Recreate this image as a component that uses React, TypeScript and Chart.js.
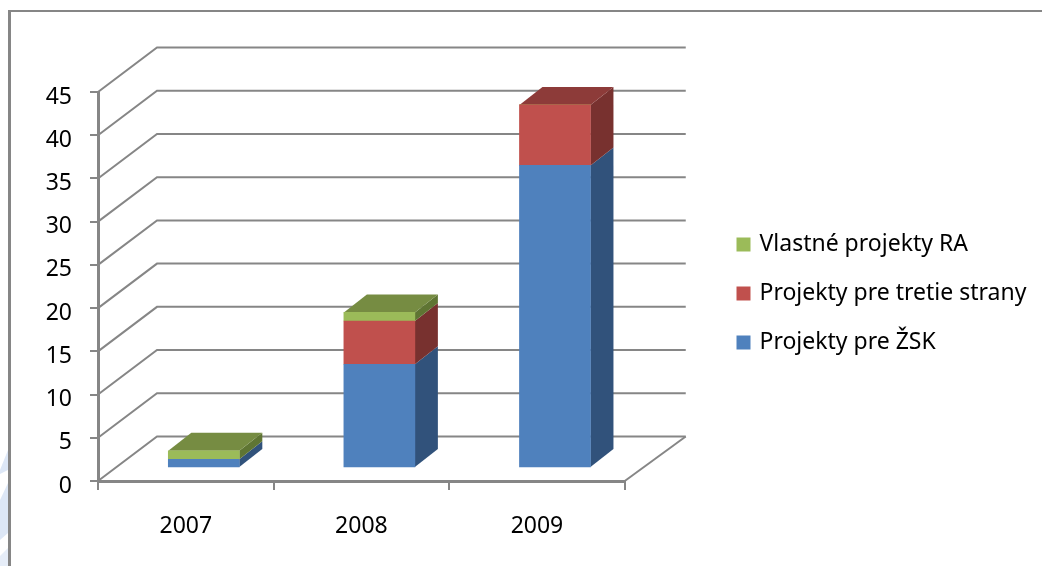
import React, { useEffect, useRef } from "react";
import { Chart, registerables } from "chart.js";

Chart.register(...registerables);

const categories = ["2007", "2008", "2009"];
const zskProjects = [1, 12, 35];
const thirdParty = [0, 5, 7];
const ownProjects = [1, 1, 0];

const FRONT = { blue: "#4F81BD", red: "#C0504D", green: "#9BBB59" };
const SIDE: Record<string, string> = { "#4F81BD": "#31527B", "#C0504D": "#78312F", "#9BBB59": "#5F7533" };
const TOP: Record<string, string> = { "#4F81BD": "#3A6090", "#C0504D": "#8D3B39", "#9BBB59": "#768C42" };
const GRID = "#868686";
const WALL = { dx: 59, dy: -44.5 };
const BAR_SHIFT = { dx: 18, dy: -13 };
const BAR_DEPTH = { dx: 23, dy: -18 };
const LEGEND_BOX_LEFT = 737;
const LEGEND_BOX_TOP = 237;

const poly = (ctx: CanvasRenderingContext2D, pts: number[][], fill: string) => {
  ctx.beginPath();
  pts.forEach(([x, y], i) => (i ? ctx.lineTo(x, y) : ctx.moveTo(x, y)));
  ctx.closePath();
  ctx.fillStyle = fill;
  ctx.fill();
};

const scene3d = {
  id: "scene3d",
  afterLayout(chart: any) {
    const lg = chart.legend;
    const pad = lg.options.labels.padding;
    lg.left = LEGEND_BOX_LEFT - pad + 2;
    lg.right = 1042;
    lg.width = lg.right - lg.left;
    lg.top = LEGEND_BOX_TOP - pad - 4;
    lg.bottom = lg.top + lg.height;
    lg.options.align = "start";
  },
  beforeDatasetsDraw(chart: any) {
    const { ctx, chartArea, scales } = chart;
    const { left, right, bottom } = chartArea;
    ctx.save();
    // faint page watermark left of the frame
    poly(ctx, [[0, 470], [8, 450], [8, 470], [0, 474]], "#DDE7F6");
    poly(ctx, [[0, 500], [8, 483], [8, 533], [0, 540]], "#DDE7F6");
    poly(ctx, [[0, 556], [8, 548], [8, 566], [0, 566]], "#E6EDF8");
    // outer frame, cut by the page at right and bottom
    ctx.strokeStyle = GRID;
    ctx.lineWidth = 3;
    ctx.beginPath();
    ctx.moveTo(9.5, 566);
    ctx.lineTo(9.5, 10);
    ctx.stroke();
    ctx.lineWidth = 2;
    ctx.beginPath();
    ctx.moveTo(8, 11);
    ctx.lineTo(1042, 11);
    ctx.stroke();
    // walls
    ctx.lineWidth = 2;
    ctx.strokeStyle = GRID;
    scales.y.ticks.forEach((t: any) => {
      const y = scales.y.getPixelForValue(t.value);
      ctx.beginPath();
      ctx.moveTo(left, y);
      ctx.lineTo(left + WALL.dx, y + WALL.dy);
      ctx.lineTo(right + WALL.dx + 2, y + WALL.dy);
      ctx.stroke();
    });
    ctx.beginPath();
    ctx.moveTo(right, bottom);
    ctx.lineTo(right + WALL.dx + 2, bottom + WALL.dy);
    ctx.stroke();
    // side and top faces of the bars
    const n = chart.data.labels.length;
    for (let j = 0; j < n; j++) {
      let topEl: any = null;
      let topColor = "";
      chart.data.datasets.forEach((ds: any, i: number) => {
        const el = chart.getDatasetMeta(i).data[j];
        if (!ds.data[j]) return;
        const xr = el.x + el.width / 2 + BAR_SHIFT.dx;
        const yt = el.y + BAR_SHIFT.dy;
        const yb = el.base + BAR_SHIFT.dy;
        poly(ctx, [[xr, yt], [xr + BAR_DEPTH.dx, yt + BAR_DEPTH.dy], [xr + BAR_DEPTH.dx, yb + BAR_DEPTH.dy], [xr, yb]], SIDE[ds.backgroundColor]);
        if (!topEl || el.y < topEl.y) { topEl = el; topColor = ds.backgroundColor; }
      });
      if (topEl) {
        const xl = topEl.x - topEl.width / 2 + BAR_SHIFT.dx;
        const xr = topEl.x + topEl.width / 2 + BAR_SHIFT.dx;
        const yt = topEl.y + BAR_SHIFT.dy;
        poly(ctx, [[xl, yt], [xr, yt], [xr + BAR_DEPTH.dx, yt + BAR_DEPTH.dy], [xl + BAR_DEPTH.dx, yt + BAR_DEPTH.dy]], TOP[topColor]);
      }
    }
    ctx.restore();
  },
  beforeDatasetDraw(chart: any) {
    chart.ctx.save();
    chart.ctx.translate(BAR_SHIFT.dx, BAR_SHIFT.dy);
  },
  afterDatasetDraw(chart: any) {
    chart.ctx.restore();
  },
};

const FONT_FAMILY = "'Noto Sans', sans-serif";

export default function App() {
  const ref = useRef<HTMLCanvasElement>(null);
  useEffect(() => {
    const chart = new Chart(ref.current!, {
      type: "bar",
      data: {
        labels: categories,
        datasets: [
          { label: "Projekty pre ŽSK", data: zskProjects, backgroundColor: FRONT.blue, stack: "s", barThickness: 71, clip: false },
          { label: "Projekty pre tretie strany", data: thirdParty, backgroundColor: FRONT.red, stack: "s", barThickness: 71, clip: false },
          { label: "Vlastné projekty RA", data: ownProjects, backgroundColor: FRONT.green, stack: "s", barThickness: 71, clip: false },
        ] as any,
      },
      plugins: [scene3d],
      options: {
        animation: false,
        responsive: false,
        layout: { padding: { top: 92, right: 209, left: 0, bottom: 0 } },
        plugins: {
          tooltip: { enabled: false },
          legend: {
            position: "right",
            reverse: true,
            labels: {
              usePointStyle: true,
              pointStyle: "rect",
              boxWidth: 9,
              boxHeight: 14,
              padding: 26,
              color: "#000",
              font: { family: FONT_FAMILY, size: 23 },
            },
          },
        },
        scales: {
          x: {
            stacked: true,
            afterFit: (s: any) => { s.height = 85; },
            grid: { drawOnChartArea: false, color: GRID, lineWidth: 2, tickLength: 9 },
            border: { color: GRID, width: 3 },
            ticks: { color: "#000", padding: 23, font: { family: FONT_FAMILY, size: 23 } },
          },
          y: {
            stacked: true,
            min: 0,
            max: 45,
            afterFit: (s: any) => { s.width = 98; },
            grid: { drawOnChartArea: false, color: GRID, lineWidth: 2, tickLength: 8 },
            border: { color: GRID, width: 3 },
            ticks: { stepSize: 5, color: "#000", padding: 18, labelOffset: 5, font: { family: FONT_FAMILY, size: 23 } },
          },
        },
      },
    } as any);
    return () => chart.destroy();
  }, []);
  return (
    <div style={{ position: "fixed", left: 0, top: 0, width: 1042, height: 566, background: "#fff" }}>
      <canvas ref={ref} width={1042} height={566} style={{ display: "block" }} />
    </div>
  );
}
